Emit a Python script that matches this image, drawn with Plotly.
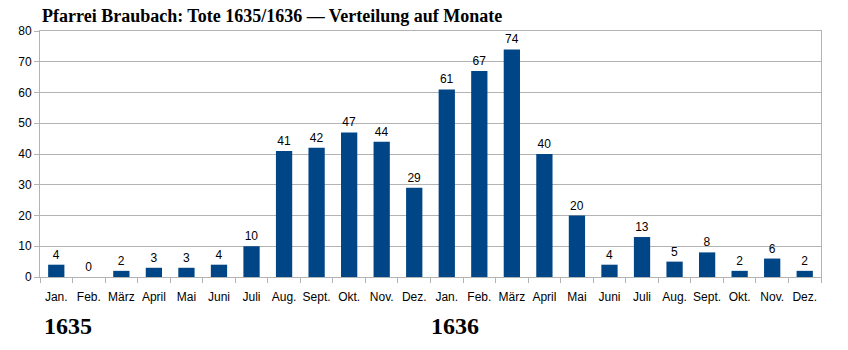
import plotly.graph_objects as go

# Burial counts per month, parish of Braubach, 1635–1636
months = ["Jan.", "Feb.", "März", "April", "Mai", "Juni", "Juli", "Aug.",
          "Sept.", "Okt.", "Nov.", "Dez."]
deaths_1635 = [4, 0, 2, 3, 3, 4, 10, 41, 42, 47, 44, 29]
deaths_1636 = [61, 67, 74, 40, 20, 4, 13, 5, 8, 2, 6, 2]
years = ["1635", "1636"]
y_ticks = [0, 10, 20, 30, 40, 50, 60, 70, 80]

labels = months + months
values = deaths_1635 + deaths_1636
positions = list(range(len(values)))

fig = go.Figure(go.Bar(
    x=positions,
    y=values,
    marker=dict(color="#004586", line=dict(width=0)),
    text=[str(v) for v in values],
    textposition="outside",
    textfont=dict(family="Liberation Sans, Arial, sans-serif", size=12, color="#000000"),
    cliponaxis=False,
    width=0.5,
))

grid = "#b3b3b3"
fig.update_layout(
    width=848, height=350,
    margin=dict(l=40, r=27, t=31, b=73),
    plot_bgcolor="white", paper_bgcolor="white",
    showlegend=False,
    font=dict(family="Liberation Sans, Arial, sans-serif", size=12, color="#000000"),
    xaxis=dict(
        range=[-0.5, len(values) - 0.5],
        tickmode="array", tickvals=positions, ticktext=labels,
        ticks="", showgrid=False, ticklabelstandoff=9,
        showline=True, linecolor=grid, linewidth=1, mirror=True,
        tickfont=dict(size=12, color="#000000"),
        minor=dict(tickmode="linear", tick0=-0.5, dtick=1, ticks="outside",
                   ticklen=5, tickcolor=grid, showgrid=False),
        fixedrange=True,
    ),
    yaxis=dict(
        range=[0, 80], tickmode="array", tickvals=y_ticks,
        showgrid=True, gridcolor=grid, gridwidth=1,
        showline=True, linecolor=grid, linewidth=1, mirror=True,
        ticks="outside", ticklen=5, tickcolor=grid,
        zeroline=False,
        tickfont=dict(size=12, color="#000000"),
        fixedrange=True,
    ),
    annotations=[
        dict(text="<b>Pfarrei Braubach: Tote 1635/1636 — Verteilung auf Monate</b>",
             xref="paper", yref="paper", x=0, y=1, xanchor="left", yanchor="bottom",
             yshift=3, showarrow=False,
             font=dict(family="Liberation Serif, Times New Roman, serif", size=18, color="#000000")),
        dict(text="<b>" + years[0] + "</b>",
             xref="x", yref="paper", x=positions[0], y=0, xanchor="center", yanchor="top",
             yshift=-34, xshift=12, showarrow=False,
             font=dict(family="Liberation Serif, Times New Roman, serif", size=24, color="#000000")),
        dict(text="<b>" + years[1] + "</b>",
             xref="x", yref="paper", x=positions[12], y=0, xanchor="center", yanchor="top",
             yshift=-34, xshift=8, showarrow=False,
             font=dict(family="Liberation Serif, Times New Roman, serif", size=24, color="#000000")),
    ],
)

fig.write_html("out.html")
